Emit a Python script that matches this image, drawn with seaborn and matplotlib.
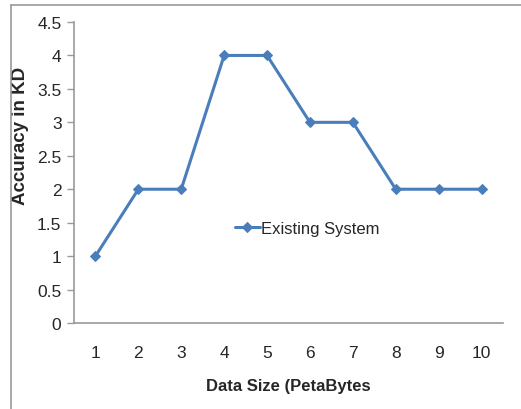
import numpy as np
import pandas as pd
import matplotlib
matplotlib.use('Agg')
import matplotlib.pyplot as plt
import seaborn as sns
from matplotlib.lines import Line2D

data_size = ['1', '2', '3', '4', '5', '6', '7', '8', '9', '10']
accuracy = [1, 2, 2, 4, 4, 3, 3, 2, 2, 2]
series_name = 'Existing System'

df = pd.DataFrame({'Data Size': data_size, 'Accuracy': accuracy, 'Series': series_name})

sns.set_style('white')
plt.rcParams['font.family'] = ['Liberation Sans', 'DejaVu Sans']

fig = plt.figure(figsize=(5.21, 4.10), dpi=100)
ax = fig.add_axes([74 / 521, 1 - 324 / 410, (503 - 74) / 521, (324 - 23) / 410])

color = '#4a7ebb'
pos = np.arange(len(data_size))
sns.lineplot(x=pos, y=df['Accuracy'], ax=ax, color=color, linewidth=2.2,
             marker='D', markersize=5, markeredgecolor=color, label=series_name)

ax.set_xlim(-0.5, len(data_size) - 0.5)
ax.set_ylim(0, 4.5)
ax.set_xticks(pos)
ax.set_xticklabels(data_size)
ax.set_yticks(np.arange(0, 4.51, 0.5))
ax.set_yticklabels(['0', '0.5', '1', '1.5', '2', '2.5', '3', '3.5', '4', '4.5'])
ax.tick_params(axis='x', length=0, pad=16, labelsize=12.5)
ax.tick_params(axis='y', length=5, width=1, color='#999999', left=True, pad=4, labelsize=12.5)

for s in ['top', 'right']:
    ax.spines[s].set_visible(False)
for s in ['left', 'bottom']:
    ax.spines[s].set_color('#999999')
    ax.spines[s].set_linewidth(1.2)

ax.set_xlabel('Data Size (PetaBytes', fontsize=12, fontweight='bold')
ax.set_ylabel('Accuracy in KD', fontsize=13.5, fontweight='bold')
ax.xaxis.set_label_coords(0.5, -0.183)
ax.yaxis.set_label_coords(-0.105, 0.626)

ax.legend(loc='center left', bbox_to_anchor=(0.34, 0.315), frameon=False,
          fontsize=12, handlelength=1.5, handletextpad=0.05)

# outer chart frame (top and left edges visible)
fig.add_artist(Line2D([10.5 / 521, 10.5 / 521], [0, 1 - 5.5 / 410], transform=fig.transFigure,
                      color='#999999', linewidth=1.2))
fig.add_artist(Line2D([10.5 / 521, 1], [1 - 5.5 / 410, 1 - 5.5 / 410], transform=fig.transFigure,
                      color='#999999', linewidth=1.2))

fig.savefig('out.png', dpi=100)
